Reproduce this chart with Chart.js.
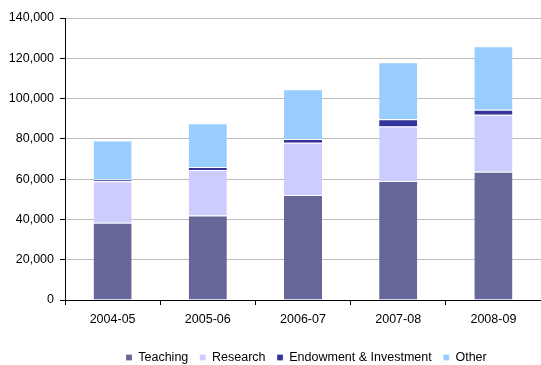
<!DOCTYPE html>
<html>
<head>
<meta charset="utf-8">
<script src="https://cdn.jsdelivr.net/npm/chart.js@4/dist/chart.umd.min.js"></script>
<style>
  html, body { margin: 0; padding: 0; background: #ffffff; }
  #wrap { width: 541px; height: 365px; position: relative; }
</style>
</head>
<body>
<div id="wrap"><canvas id="c" width="541" height="365"></canvas></div>
<script>
// Income by source, stacked per academic year
const years = ['2004-05', '2005-06', '2006-07', '2007-08', '2008-09'];
const teaching  = [38300, 41900, 52100, 59100, 63700];
const research  = [20700, 22600, 26000, 27000, 28300];
const endowment = [1000, 1500, 1800, 3600, 2500];
const other     = [19200, 21700, 24700, 28300, 31500];
const yTicks = [0, 20000, 40000, 60000, 80000, 100000, 120000, 140000];

const font = { family: '"Liberation Sans", Arial, sans-serif', size: 12.5 };
const LEGEND_PAD = 11.5;

function series(label, data, color) {
  return {
    label, data,
    backgroundColor: color,
    borderColor: '#ffffff',
    borderWidth: { top: 1, left: 0, right: 0, bottom: 0 },
    borderSkipped: 'start',
    barPercentage: 0.4,
    categoryPercentage: 1.0
  };
}

// Places the legend row: first box at x=126, text line centred at y=357.5
const legendPlacer = {
  id: 'legendPlacer',
  afterLayout(chart) {
    const lg = chart.legend;
    if (!lg || !lg.lineWidths) return;
    const startX = (lg.left + lg.right + LEGEND_PAD - lg.lineWidths[0]) / 2;
    const dx = 126 - startX;
    lg.left += dx; lg.right += dx;
    const textY = lg.top + LEGEND_PAD + font.size / 2;
    const dy = 357.5 - textY;
    lg.top += dy; lg.bottom += dy;
  }
};

new Chart(document.getElementById('c'), {
  type: 'bar',
  data: {
    labels: years,
    datasets: [
      series('Teaching', teaching, '#666699'),
      series('Research', research, '#CCCCFF'),
      series('Endowment & Investment', endowment, '#333399'),
      series('Other', other, '#99CCFF')
    ]
  },
  plugins: [legendPlacer],
  options: {
    responsive: false,
    animation: false,
    layout: { padding: { top: 18, right: 0, left: 0, bottom: 0 } },
    plugins: {
      tooltip: { enabled: false },
      legend: {
        position: 'bottom',
        labels: {
          font, color: '#000000',
          boxWidth: 6, boxHeight: 6,
          padding: LEGEND_PAD
        }
      }
    },
    scales: {
      x: {
        stacked: true,
        afterFit: (s) => { s.height = 31; },
        grid: {
          offset: true,
          drawOnChartArea: false,
          drawTicks: true,
          tickLength: 5,
          tickColor: '#000000'
        },
        border: { display: true, color: '#000000', width: 1 },
        ticks: { font, color: '#000000', padding: 7.5, maxRotation: 0 }
      },
      y: {
        stacked: true,
        min: 0, max: 140000,
        afterFit: (s) => { s.width = 65; },
        afterBuildTicks: (scale) => { scale.ticks = yTicks.map(v => ({ value: v })); },
        grid: {
          color: '#bdbdbd',
          drawTicks: true,
          tickLength: 5,
          tickColor: '#000000'
        },
        border: { display: true, color: '#000000', width: 1 },
        ticks: {
          font, color: '#000000', padding: 6,
          callback: (v) => v.toLocaleString('en-US')
        }
      }
    }
  }
});
</script>
</body>
</html>
